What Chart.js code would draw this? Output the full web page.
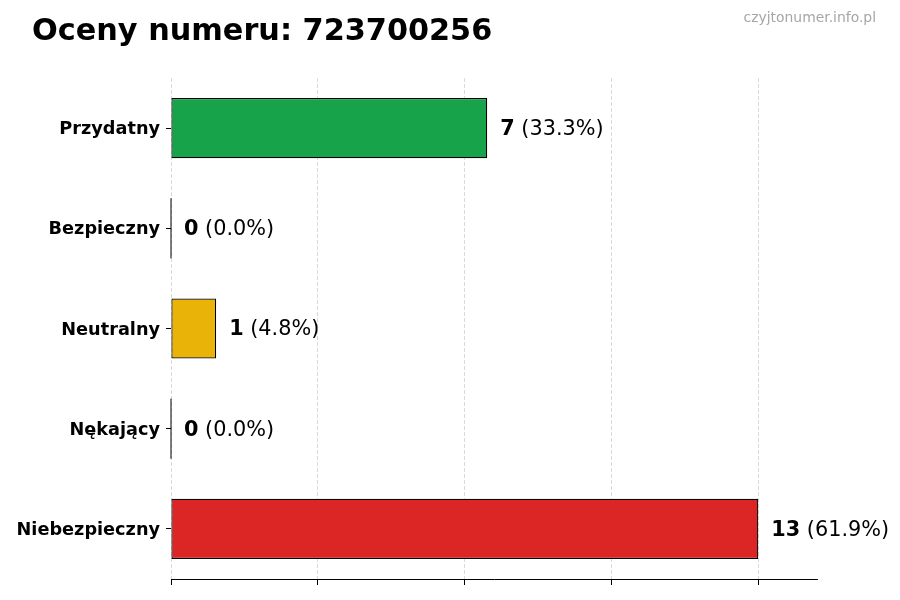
<!DOCTYPE html>
<html>
<head>
<meta charset="utf-8">
<script src="https://cdn.jsdelivr.net/npm/chart.js@4/dist/chart.umd.min.js"></script>
<style>
  html, body { margin: 0; padding: 0; background: #fff; }
  #wrap { width: 900px; height: 600px; }
</style>
</head>
<body>
<div id="wrap"><canvas id="ratingsChart" width="900" height="600"></canvas></div>
<script>
const categories = ["Przydatny", "Bezpieczny", "Neutralny", "Nękający", "Niebezpieczny"];
const counts = [7, 0, 1, 0, 13];
const barColors = ["#16a34a", "#2563eb", "#eab308", "#9333ea", "#dc2626"];
const xTicks = [0, 3.25, 6.5, 9.75, 13];
const xMax = 14.3;

const titleText = "Oceny numeru: 723700256";
const watermark = "czyjtonumer.info.pl";

const total = counts.reduce((a, b) => a + b, 0);

const extrasPlugin = {
    id: "extras",
    afterDraw(chart) {
        const ctx = chart.ctx;
        ctx.save();

        // title + watermark
        ctx.fillStyle = "#000";
        ctx.font = "bold 30.3px 'DejaVu Sans'";
        ctx.textAlign = "left";
        ctx.textBaseline = "alphabetic";
        ctx.fillText(titleText, 32, 40);

        ctx.fillStyle = "#a6a6a6";
        ctx.font = "13.9px 'DejaVu Sans'";
        ctx.textAlign = "right";
        ctx.fillText(watermark, 876, 22);

        // value labels next to bars
        const meta = chart.getDatasetMeta(0);
        meta.data.forEach((bar, i) => {
            const v = counts[i];
            if (v === 0) {
                // zero-width bar still shows its edge
                ctx.strokeStyle = "#000";
                ctx.lineWidth = 1;
                ctx.beginPath();
                ctx.moveTo(bar.x, bar.y - bar.height / 2);
                ctx.lineTo(bar.x, bar.y + bar.height / 2);
                ctx.stroke();
            }
            const pct = (total ? v / total * 100 : 0).toFixed(1);
            const y = bar.y + 1.5;
            let x = bar.x + 13;
            ctx.fillStyle = "#000";
            ctx.textAlign = "left";
            ctx.textBaseline = "middle";
            ctx.font = "bold 20.8px 'DejaVu Sans'";
            const bold = String(v);
            ctx.fillText(bold, x, y);
            x += ctx.measureText(bold).width;
            ctx.font = "20.8px 'DejaVu Sans'";
            ctx.fillText(" (" + pct + "%)", x, y);
        });

        ctx.restore();
    }
};

const ctx = document.getElementById("ratingsChart").getContext("2d");
const chart = new Chart(ctx, {
    type: "bar",
    data: {
        labels: categories,
        datasets: [{
            data: counts,
            backgroundColor: barColors,
            borderColor: "#000",
            borderWidth: 1.2,
            borderSkipped: false,
            categoryPercentage: 0.6,
            barPercentage: 1.0
        }]
    },
    options: {
        indexAxis: "y",
        responsive: false,
        animation: false,
        devicePixelRatio: 1,
        layout: { padding: { left: 0, right: 83, top: 78, bottom: 0 } },
        plugins: {
            legend: { display: false },
            tooltip: { enabled: false }
        },
        scales: {
            x: {
                min: 0,
                max: xMax,
                z: 1,
                afterBuildTicks: scale => {
                    scale.ticks = xTicks.map(v => ({ value: v }));
                },
                afterFit: scale => { scale.height = 21; },
                ticks: { display: false },
                grid: {
                    color: "rgba(160,160,160,0.5)",
                    lineWidth: 0.8,
                    tickColor: "#000",
                    tickLength: 6,
                    tickWidth: 1,
                    tickBorderDash: []
                },
                border: { display: true, color: "#000", width: 1, dash: [4, 2] }
            },
            y: {
                afterFit: scale => { scale.width = 171; },
                grid: {
                    drawOnChartArea: false,
                    offset: false,
                    tickLength: 5,
                    tickColor: "#000",
                    tickWidth: 1
                },
                border: { display: false },
                ticks: {
                    color: "#000",
                    padding: 6,
                    labelOffset: 1.5,
                    font: { family: "'DejaVu Sans'", weight: "bold", size: 17.7 }
                }
            }
        }
    },
    plugins: [extrasPlugin]
});
</script>
</body>
</html>
